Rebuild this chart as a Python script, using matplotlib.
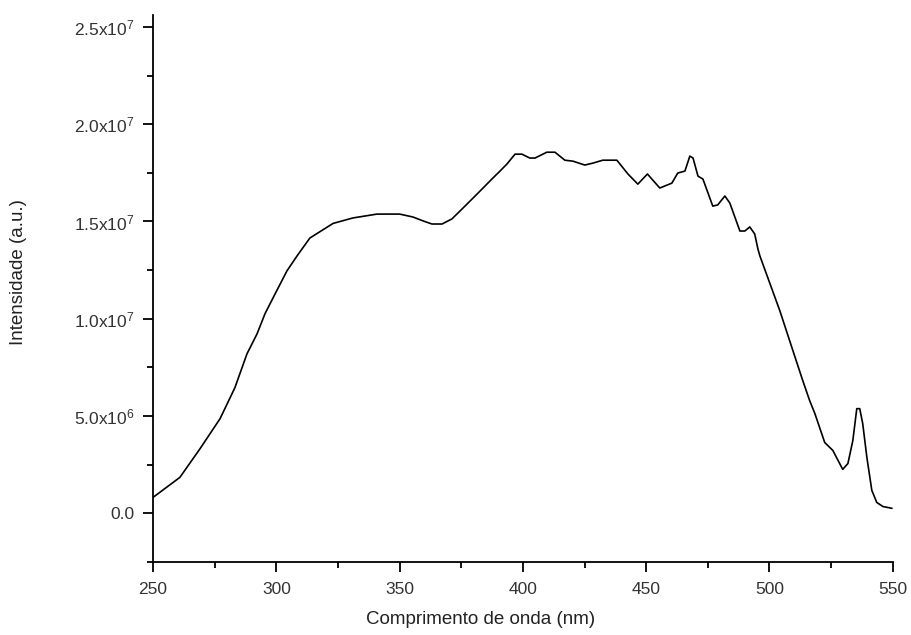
import numpy as np
import matplotlib
matplotlib.use("Agg")
import matplotlib.pyplot as plt
from matplotlib.ticker import MultipleLocator, FuncFormatter

# Data (wavelength in nm, intensity in a.u.)
wavelength = [250.0, 260.9, 269.1, 277.2, 283.2, 288.1, 292.2, 295.4, 299.5, 304.3,
              308.4, 313.6, 323.0, 331.0, 340.8, 350.0, 355.4, 359.5, 363.1, 367.2,
              371.2, 375.7, 381.8, 387.8, 390.7, 393.5, 396.8, 399.6, 402.8, 404.9,
              409.7, 413.0, 417.0, 420.3, 425.1, 428.4, 432.4, 438.1, 442.6, 446.6,
              450.5, 455.5, 460.4, 462.8, 465.7, 467.7, 469.0, 471.0, 473.0, 477.0,
              479.0, 481.9, 483.9, 488.0, 490.0, 492.0, 494.0, 495.3, 496.1, 504.2,
              509.5, 513.5, 516.3, 518.4, 522.4, 525.7, 529.7, 531.8, 533.8, 535.4,
              536.6, 537.8, 539.5, 541.5, 543.5, 546.0, 549.6]
intensity = [0.82e6, 1.85e6, 3.33e6, 4.87e6, 6.46e6, 8.2e6, 9.23e6, 1.026e7, 1.128e7, 1.246e7,
             1.323e7, 1.415e7, 1.49e7, 1.518e7, 1.538e7, 1.538e7, 1.523e7, 1.503e7, 1.487e7, 1.487e7,
             1.513e7, 1.569e7, 1.646e7, 1.723e7, 1.759e7, 1.795e7, 1.846e7, 1.846e7, 1.826e7, 1.826e7,
             1.856e7, 1.856e7, 1.815e7, 1.81e7, 1.79e7, 1.80e7, 1.815e7, 1.815e7, 1.744e7, 1.692e7,
             1.744e7, 1.672e7, 1.697e7, 1.749e7, 1.759e7, 1.836e7, 1.826e7, 1.733e7, 1.718e7, 1.579e7,
             1.585e7, 1.631e7, 1.595e7, 1.451e7, 1.451e7, 1.472e7, 1.436e7, 1.359e7, 1.323e7, 1.041e7,
             8.36e6, 6.82e6, 5.79e6, 5.13e6, 3.64e6, 3.23e6, 2.26e6, 2.56e6, 3.74e6, 5.38e6,
             5.38e6, 4.62e6, 2.87e6, 1.18e6, 0.56e6, 0.35e6, 0.26e6]

plt.rcParams['font.family'] = ['Liberation Sans', 'DejaVu Sans']
plt.rcParams['mathtext.default'] = 'regular'

fig = plt.figure(figsize=(9.11, 6.35), dpi=100, facecolor='w')
ax = fig.add_axes([0.168, 0.115, 0.812, 0.861])

ax.plot(wavelength, intensity, color='k', lw=1.2)

# Axis limits
ax.set_xlim(250, 550)
ax.set_ylim(-2.5e6, 2.56e7)

# Spines
ax.spines['top'].set_visible(False)
ax.spines['right'].set_visible(False)
ax.spines['left'].set_linewidth(1.3)
ax.spines['bottom'].set_linewidth(1.3)

# Ticks
ax.xaxis.set_major_locator(MultipleLocator(50))
ax.xaxis.set_minor_locator(MultipleLocator(25))
ax.yaxis.set_major_locator(MultipleLocator(5e6))
ax.yaxis.set_minor_locator(MultipleLocator(2.5e6))

def yfmt(v, pos):
    if abs(v) < 1:
        return "0.0"
    exp = int(np.floor(np.log10(abs(v))))
    return r"$%.1fx10^{%d}$" % (v / 10**exp, exp)

ax.yaxis.set_major_formatter(FuncFormatter(yfmt))
ax.tick_params(which='major', direction='out', length=7.5, width=1.3, labelsize=12.5,
               labelcolor='#333333')
ax.tick_params(which='minor', direction='out', length=4.5, width=1.3)
ax.tick_params(axis='x', which='major', pad=7)
ax.tick_params(axis='y', which='major', pad=6)

# Labels
ax.set_xlabel("Comprimento de onda (nm)", fontsize=13.5, color='#222222')
ax.xaxis.set_label_coords(0.443, -0.09)
ax.set_ylabel("Intensidade (a.u.)", fontsize=13.5, color='#222222')
ax.yaxis.set_label_coords(-0.17, 0.53)

fig.savefig("out.png", dpi=100, facecolor='w')
